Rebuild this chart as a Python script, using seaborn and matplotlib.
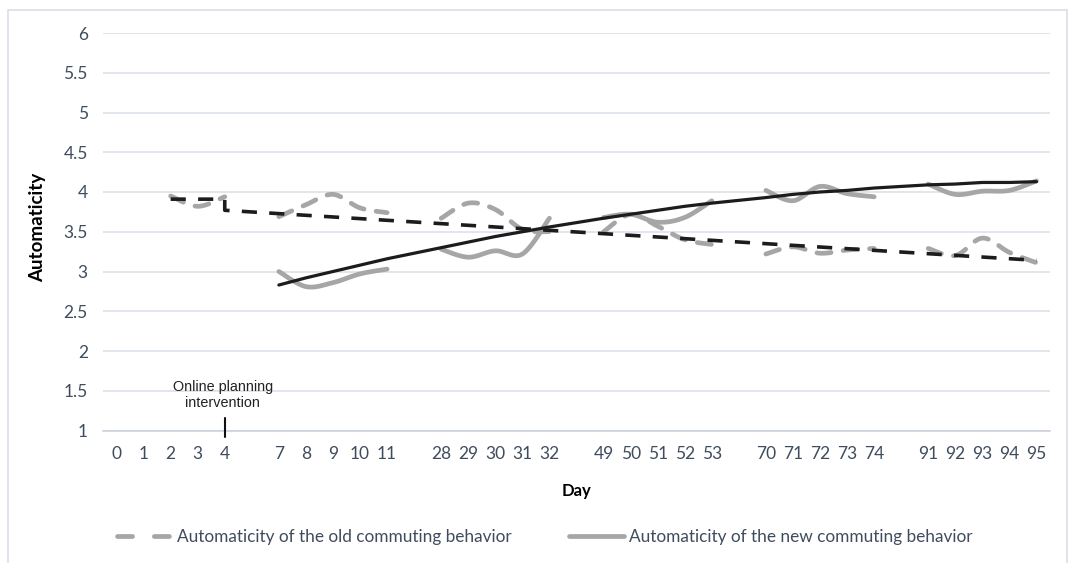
import numpy as np
import matplotlib
matplotlib.use("Agg")
import matplotlib.pyplot as plt
import seaborn as sns
from matplotlib.patches import Rectangle
from matplotlib.lines import Line2D

# ---- data -------------------------------------------------------------
day_groups = [[0, 1, 2, 3, 4], [7, 8, 9, 10, 11], [28, 29, 30, 31, 32],
              [49, 50, 51, 52, 53], [70, 71, 72, 73, 74], [91, 92, 93, 94, 95]]

old_days = [2, 3, 4, 7, 8, 9, 10, 11, 28, 29, 30, 31, 32, 49, 50, 51, 52, 53,
            70, 71, 72, 73, 74, 91, 92, 93, 94, 95]
old_vals = [3.95, 3.82, 3.94, 3.69, 3.84, 3.97, 3.80, 3.74, 3.67, 3.86, 3.78, 3.53, 3.50,
            3.50, 3.72, 3.57, 3.40, 3.34, 3.22, 3.31, 3.23, 3.27, 3.29,
            3.29, 3.20, 3.42, 3.24, 3.11]

new_days = [7, 8, 9, 10, 11, 28, 29, 30, 31, 32, 49, 50, 51, 52, 53,
            70, 71, 72, 73, 74, 91, 92, 93, 94, 95]
new_vals = [3.00, 2.81, 2.86, 2.97, 3.03, 3.28, 3.18, 3.26, 3.22, 3.67,
            3.68, 3.72, 3.62, 3.68, 3.89, 4.02, 3.89, 4.07, 3.98, 3.94,
            4.10, 3.97, 4.01, 4.02, 4.14]

old_trend_days = [2, 4, 4, 95]
old_trend_vals = [3.91, 3.91, 3.77, 3.14]

new_trend_days = new_days
new_trend_vals = [2.83, 2.92, 3.00, 3.08, 3.16, 3.30, 3.37, 3.44, 3.50, 3.56,
                  3.67, 3.72, 3.77, 3.82, 3.86, 3.93, 3.97, 4.00, 4.02, 4.05,
                  4.09, 4.10, 4.12, 4.12, 4.13]

y_ticks = [1, 1.5, 2, 2.5, 3, 3.5, 4, 4.5, 5, 5.5, 6]
old_label = "Automaticity of the old commuting behavior"
new_label = "Automaticity of the new commuting behavior"
note_text = "Online planning\nintervention"
note_day = 4

# ---- category layout: groups of five days with an empty slot between ----
slot_of = {}
slot_labels = []
for g, grp in enumerate(day_groups):
    if g > 0:
        slot_labels.append("")
    for d in grp:
        slot_of[d] = len(slot_labels)
        slot_labels.append(str(d))
n_slots = len(slot_labels)


def smooth(xs, ys, n=24):
    """Bezier smoothing through the points (Catmull-Rom style control points)."""
    xs = np.asarray(xs, float)
    ys = np.asarray(ys, float)
    if len(xs) < 3:
        return xs, ys
    px = np.concatenate([[xs[0]], xs, [xs[-1]]])
    py = np.concatenate([[ys[0]], ys, [ys[-1]]])
    out_x, out_y = [], []
    t = np.linspace(0, 1, n)
    for i in range(1, len(px) - 2):
        p0 = np.array([px[i], py[i]])
        p3 = np.array([px[i + 1], py[i + 1]])
        c1 = p0 + (np.array([px[i + 1], py[i + 1]]) - np.array([px[i - 1], py[i - 1]])) / 6
        c2 = p3 - (np.array([px[i + 2], py[i + 2]]) - np.array([px[i], py[i]])) / 6
        b = ((1 - t) ** 3)[:, None] * p0 + (3 * (1 - t) ** 2 * t)[:, None] * c1 \
            + (3 * (1 - t) * t ** 2)[:, None] * c2 + (t ** 3)[:, None] * p3
        if i > 1:
            b = b[1:]
        out_x.extend(b[:, 0])
        out_y.extend(b[:, 1])
    return np.array(out_x), np.array(out_y)


def segments(days, vals):
    """Split a series wherever an empty category slot interrupts it."""
    segs, cur = [], []
    for d, v in zip(days, vals):
        s = slot_of[d]
        if cur and s != cur[-1][0] + 1:
            segs.append(cur)
            cur = []
        cur.append((s, v))
    if cur:
        segs.append(cur)
    return segs


# ---- figure ----------------------------------------------------------
sns.set_theme(style="white")
plt.rcParams["font.family"] = ["Lato", "DejaVu Sans"]

W, H = 1071, 563
fig = plt.figure(figsize=(W / 100, H / 100), dpi=100)
fig.patch.set_facecolor("white")
fig.add_artist(Rectangle((8 / W, -0.01), (1067 - 8) / W, 1 - 10 / H + 0.01,
                         transform=fig.transFigure, fill=False,
                         edgecolor="#d9dee6", linewidth=1.2))

ax_l, ax_r, ax_t, ax_b = 103, 1050, 33, 430.5
ax = fig.add_axes([ax_l / W, 1 - ax_b / H, (ax_r - ax_l) / W, (ax_b - ax_t) / H])
ax.set_facecolor("none")

grey = "#a6a6a6"
dark = "#1c1c1c"
text_col = "#3f4c5e"

# gray data series (smoothed)
for seg in segments(old_days, old_vals):
    xs, ys = smooth([s for s, _ in seg], [v for _, v in seg])
    sns.lineplot(x=xs, y=ys, ax=ax, color=grey, lw=3.4, sort=False, estimator=None)
    ax.lines[-1].set_dashes((3.0, 2.6))
    ax.lines[-1].set_dash_capstyle("round")
for seg in segments(new_days, new_vals):
    xs, ys = smooth([s for s, _ in seg], [v for _, v in seg])
    sns.lineplot(x=xs, y=ys, ax=ax, color=grey, lw=3.4, sort=False, estimator=None)
    ax.lines[-1].set_solid_capstyle("round")

# trend lines
tx = [slot_of[d] for d in old_trend_days]
sns.lineplot(x=tx, y=old_trend_vals, ax=ax, color=dark, lw=2.6, sort=False, estimator=None)
ax.lines[-1].set_dashes((4.2, 3.4))
ax.lines[-1].set_dash_capstyle("butt")
tx = [slot_of[d] for d in new_trend_days]
sns.lineplot(x=tx, y=new_trend_vals, ax=ax, color=dark, lw=2.3, sort=False, estimator=None)

# intervention marker
xi = slot_of[note_day]
ax.plot([xi, xi], [0.92, 1.157], color="#111111", lw=1.5, clip_on=False, zorder=5)
ax.text(xi - 0.08, 1.45, note_text, ha="center", va="center", fontsize=10.4,
        family=["Liberation Sans", "DejaVu Sans"], color="#222222", linespacing=1.2)

# axes styling
ax.set_xlim(-0.5, n_slots - 0.5)
ax.set_ylim(1, 6)
ax.set_yticks(y_ticks)
ax.set_yticklabels([f"{v:g}" for v in y_ticks])
ax.set_xticks(range(n_slots))
ax.set_xticklabels(slot_labels)
ax.set_xticks(np.arange(-0.5, n_slots, 1.0), minor=True)
ax.tick_params(axis="x", which="major", length=0, pad=11, labelsize=12.5, labelcolor=text_col)
ax.tick_params(axis="x", which="minor", length=5, width=1, color="#c9d0da", direction="out")
ax.tick_params(axis="y", length=0, pad=11, labelsize=12.5, labelcolor=text_col)
ax.grid(axis="y", color="#d8dee7", lw=1.1)
ax.grid(axis="x", visible=False)
ax.set_axisbelow(True)
for side in ("left", "top", "right"):
    ax.spines[side].set_visible(False)
ax.spines["bottom"].set_color("#c9d0da")
ax.spines["bottom"].set_linewidth(1.1)

ax.set_ylabel("Automaticity", fontsize=13.5, fontweight="bold", color="black")
ax.yaxis.set_label_coords((46.5 - ax_l) / (ax_r - ax_l), 0.51)
ax.set_xlabel("Day", fontsize=12, fontweight="bold", color="black")
ax.xaxis.set_label_coords(0.5, (ax_b - 483) / (ax_b - ax_t))

# legend
handles = [Line2D([], [], color=grey, lw=3.4, dashes=(3.2, 4.6), dash_capstyle="round"),
           Line2D([], [], color=grey, lw=3.4, solid_capstyle="round")]
fig.legend(handles, [old_label, new_label], loc="center", ncol=2,
           bbox_to_anchor=(545 / W, 1 - 537 / H), frameon=False, fontsize=12.4,
           labelcolor=text_col, handlelength=3.2, handletextpad=0.3, columnspacing=3.3)

fig.savefig("out.png", dpi=100)
